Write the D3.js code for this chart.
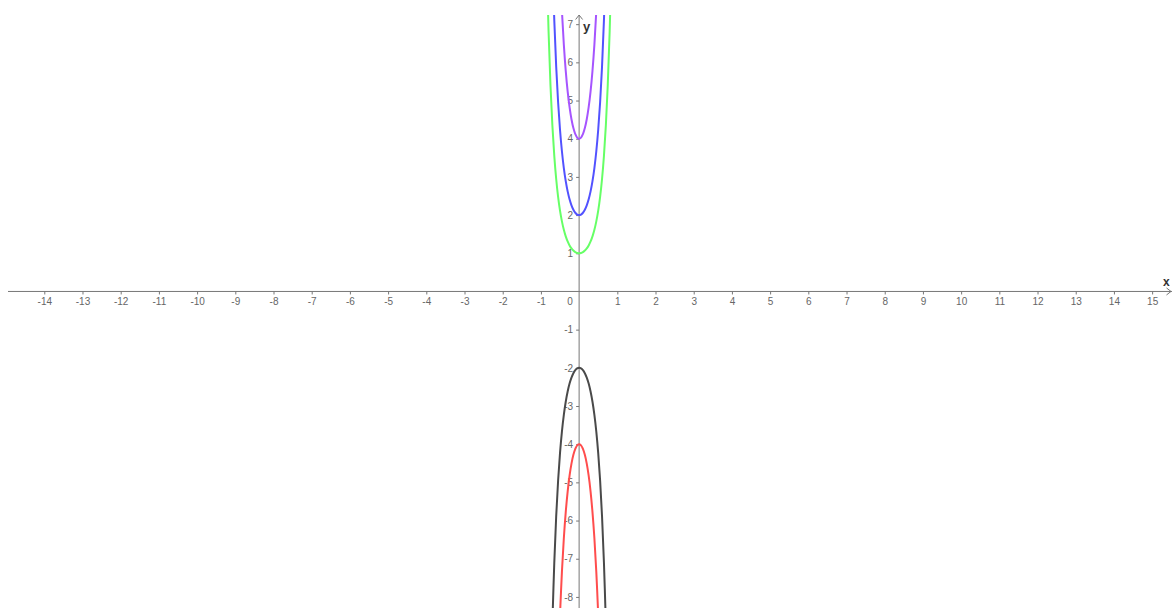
<!DOCTYPE html>
<html>
<head>
<meta charset="utf-8">
<script src="https://cdn.jsdelivr.net/npm/d3@7/dist/d3.min.js"></script>
<style>
  html, body { margin: 0; padding: 0; background: #fff; }
  svg { display: block; }
  .tick text { font-family: "Liberation Sans", Arial, sans-serif; font-size: 10px; fill: #666; }
  .tick line { stroke: #777; }
</style>
</head>
<body>
<svg id="chart" width="1172" height="608"></svg>
<script>
// Visible window of the graphing view (in axis units)
const viewX = [-14.95, 15.52];
const viewY = [-8.29, 7.24];

// Tick labels
const xTicks = [-14, -13, -12, -11, -10, -9, -8, -7, -6, -5, -4, -3, -2, -1,
                1, 2, 3, 4, 5, 6, 7, 8, 9, 10, 11, 12, 13, 14, 15];
const yTicks = [-8, -7, -6, -5, -4, -3, -2, -1, 1, 2, 3, 4, 5, 6, 7];

// Sample points of each curve
const greenX = [-0.85, -0.8, -0.75, -0.7, -0.65, -0.6, -0.55, -0.5, -0.45, -0.4, -0.35, -0.3, -0.25, -0.2, -0.15, -0.1, -0.05,
                0, 0.05, 0.1, 0.15, 0.2, 0.25, 0.3, 0.35, 0.4, 0.45, 0.5, 0.55, 0.6, 0.65, 0.7, 0.75, 0.8, 0.85];
const greenY = [8.737, 6.821, 5.406, 4.349, 3.552, 2.945, 2.478, 2.117, 1.836, 1.616, 1.444, 1.310, 1.206, 1.128, 1.070, 1.031, 1.008,
                1, 1.008, 1.031, 1.070, 1.128, 1.206, 1.310, 1.444, 1.616, 1.836, 2.117, 2.478, 2.945, 3.552, 4.349, 5.406, 6.821, 8.737];

const blueX = [-0.7, -0.65, -0.6, -0.55, -0.5, -0.45, -0.4, -0.35, -0.3, -0.25, -0.2, -0.15, -0.1, -0.05,
               0, 0.05, 0.1, 0.15, 0.2, 0.25, 0.3, 0.35, 0.4, 0.45, 0.5, 0.55, 0.6, 0.65, 0.7];
const blueY = [8.698, 7.104, 5.889, 4.956, 4.234, 3.672, 3.232, 2.888, 2.620, 2.412, 2.255, 2.140, 2.061, 2.015,
               2, 2.015, 2.061, 2.140, 2.255, 2.412, 2.620, 2.888, 3.232, 3.672, 4.234, 4.956, 5.889, 7.104, 8.698];

const purpleX = [-0.5, -0.45, -0.4, -0.35, -0.3, -0.25, -0.2, -0.15, -0.1, -0.05,
                 0, 0.05, 0.1, 0.15, 0.2, 0.25, 0.3, 0.35, 0.4, 0.45, 0.5];
const purpleY = [8.468, 7.344, 6.464, 5.777, 5.240, 4.825, 4.510, 4.279, 4.122, 4.030,
                 4, 4.030, 4.122, 4.279, 4.510, 4.825, 5.240, 5.777, 6.464, 7.344, 8.468];

const blackX = [-0.7, -0.65, -0.6, -0.55, -0.5, -0.45, -0.4, -0.35, -0.3, -0.25, -0.2, -0.15, -0.1, -0.05,
                0, 0.05, 0.1, 0.15, 0.2, 0.25, 0.3, 0.35, 0.4, 0.45, 0.5, 0.55, 0.6, 0.65, 0.7];
const blackY = [-8.698, -7.104, -5.889, -4.956, -4.234, -3.672, -3.232, -2.888, -2.620, -2.412, -2.255, -2.140, -2.061, -2.015,
                -2, -2.015, -2.061, -2.140, -2.255, -2.412, -2.620, -2.888, -3.232, -3.672, -4.234, -4.956, -5.889, -7.104, -8.698];

const redX = [-0.5, -0.45, -0.4, -0.35, -0.3, -0.25, -0.2, -0.15, -0.1, -0.05,
              0, 0.05, 0.1, 0.15, 0.2, 0.25, 0.3, 0.35, 0.4, 0.45, 0.5];
const redY = [-8.468, -7.344, -6.464, -5.777, -5.240, -4.825, -4.510, -4.279, -4.122, -4.030,
              -4, -4.030, -4.122, -4.279, -4.510, -4.825, -5.240, -5.777, -6.464, -7.344, -8.468];

const curves = [
  { xs: greenX,  ys: greenY,  color: "#66ff66" },
  { xs: blueX,   ys: blueY,   color: "#5252ff" },
  { xs: purpleX, ys: purpleY, color: "#a655ff" },
  { xs: blackX,  ys: blackY,  color: "#4a4a4a" },
  { xs: redX,    ys: redY,    color: "#ff4d4d" }
];

const svg = d3.select("#chart");
const viewLeft = 8, viewRight = 1172, viewTop = 15, viewBottom = 608;

const x = d3.scaleLinear().domain(viewX).range([viewLeft, viewRight]);
const y = d3.scaleLinear().domain(viewY).range([viewBottom, viewTop]);

const ox = x(0), oy = y(0);

svg.append("defs").append("clipPath").attr("id", "view")
  .append("rect").attr("x", viewLeft).attr("y", viewTop)
  .attr("width", viewRight - viewLeft).attr("height", viewBottom - viewTop);

// Axis lines
const axisColor = "#777";
svg.append("line").attr("x1", viewLeft).attr("x2", viewRight).attr("y1", oy).attr("y2", oy)
  .attr("stroke", axisColor).attr("stroke-width", 1);
svg.append("line").attr("x1", ox).attr("x2", ox).attr("y1", viewTop).attr("y2", viewBottom)
  .attr("stroke", axisColor).attr("stroke-width", 1);

// Arrow heads
svg.append("path")
  .attr("d", `M${ox - 3.5},${viewTop + 4.5} L${ox},${viewTop} L${ox + 3.5},${viewTop + 4.5}`)
  .attr("fill", "none").attr("stroke", axisColor).attr("stroke-width", 1);
svg.append("path")
  .attr("d", `M${viewRight - 5.5},${oy - 3.5} L${viewRight - 1},${oy} L${viewRight - 5.5},${oy + 3.5}`)
  .attr("fill", "none").attr("stroke", axisColor).attr("stroke-width", 1);

// Tick marks and labels
const gx = svg.append("g").attr("transform", `translate(0,${oy})`)
  .call(d3.axisBottom(x).tickValues(xTicks).tickSize(3).tickPadding(3).tickFormat(d => String(d)));
gx.select(".domain").remove();
gx.selectAll(".tick text").attr("y", 6).attr("dy", "0.71em");

const gy = svg.append("g").attr("transform", `translate(${ox},0)`)
  .call(d3.axisLeft(y).tickValues(yTicks).tickSize(3).tickPadding(3).tickFormat(d => String(d)));
gy.select(".domain").remove();

svg.append("text").attr("x", ox - 9).attr("y", oy + 6).attr("dy", "0.71em")
  .attr("text-anchor", "middle")
  .style("font-family", "'Liberation Sans', Arial, sans-serif")
  .style("font-size", "10px").style("fill", "#666").text("0");

// Axis names
svg.append("text").attr("x", ox + 4).attr("y", viewTop + 16)
  .style("font-family", "'Liberation Sans', Arial, sans-serif")
  .style("font-size", "13px").style("font-weight", "bold").style("fill", "#333").text("y");
svg.append("text").attr("x", viewRight - 9).attr("y", oy - 5)
  .style("font-family", "'Liberation Sans', Arial, sans-serif")
  .style("font-size", "12px").style("font-weight", "bold").style("fill", "#333").text("x");

// Curves
const line = d3.line()
  .x(d => x(d[0]))
  .y(d => y(d[1]))
  .curve(d3.curveCatmullRom.alpha(0.5));

const plot = svg.append("g").attr("clip-path", "url(#view)");
curves.forEach(c => {
  const pts = c.xs.map((v, i) => [v, c.ys[i]]);
  plot.append("path")
    .datum(pts)
    .attr("d", line)
    .attr("fill", "none")
    .attr("stroke", c.color)
    .attr("stroke-width", 2)
    .attr("stroke-linejoin", "round");
});
</script>
</body>
</html>
